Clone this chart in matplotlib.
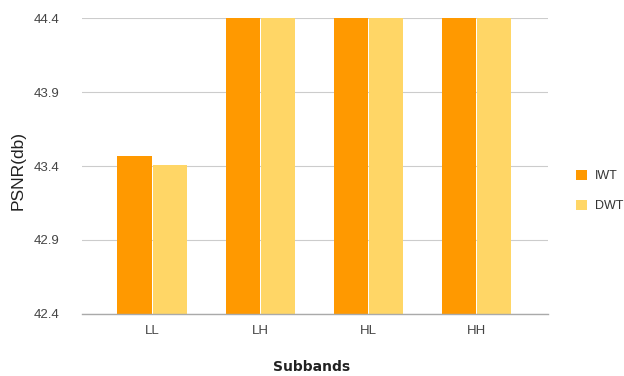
import numpy as np
import matplotlib.pyplot as plt

plt.rcParams['font.family'] = ['Liberation Sans', 'DejaVu Sans']

subbands = ['LL', 'LH', 'HL', 'HH']
iwt = [43.47, 44.4, 44.4, 44.4]
dwt = [43.41, 44.4, 44.4, 44.4]
yticks = [42.4, 42.9, 43.4, 43.9, 44.4]

fig = plt.figure(figsize=(6.24, 3.76), dpi=100)
ax = fig.add_axes([0.131, 0.165, 0.747, 0.787])

x = np.arange(len(subbands))
w = 0.315
ax.bar(x - w / 2 - 0.005, iwt, w, color='#ff9900', label='IWT', zorder=3)
ax.bar(x + w / 2 + 0.005, dwt, w, color='#ffd666', label='DWT', zorder=3)

ax.set_ylim(42.4, 44.4)
ax.set_xlim(-0.65, 3.66)
ax.set_yticks(yticks)
ax.set_yticklabels([f'{v:.1f}' for v in yticks])
ax.set_xticks(x)
ax.set_xticklabels(subbands)
ax.tick_params(length=0, labelsize=9.5, colors='#444444', pad=8)
ax.tick_params(axis='y', pad=16)
ax.grid(axis='y', color='#cccccc', linewidth=0.8, zorder=0)
for s in ax.spines.values():
    s.set_visible(False)
ax.axhline(42.4, color='#aaaaaa', linewidth=1.0, zorder=4, clip_on=False)

fig.text(18 / 624, 1 - 170 / 376, 'PSNR(db)', fontsize=12.5, color='#222222',
         rotation=90, ha='center', va='center')
fig.text(312 / 624, 1 - 367 / 376, 'Subbands', fontsize=10, fontweight='bold',
         color='#222222', ha='center', va='center', family='DejaVu Sans')

ax.legend(loc='center left', bbox_to_anchor=(1.036, 0.415), frameon=False,
          fontsize=9, handlelength=0.9, handleheight=0.9, labelspacing=1.4,
          handletextpad=0.6, labelcolor='#333333')

fig.savefig('out.png', dpi=100)
